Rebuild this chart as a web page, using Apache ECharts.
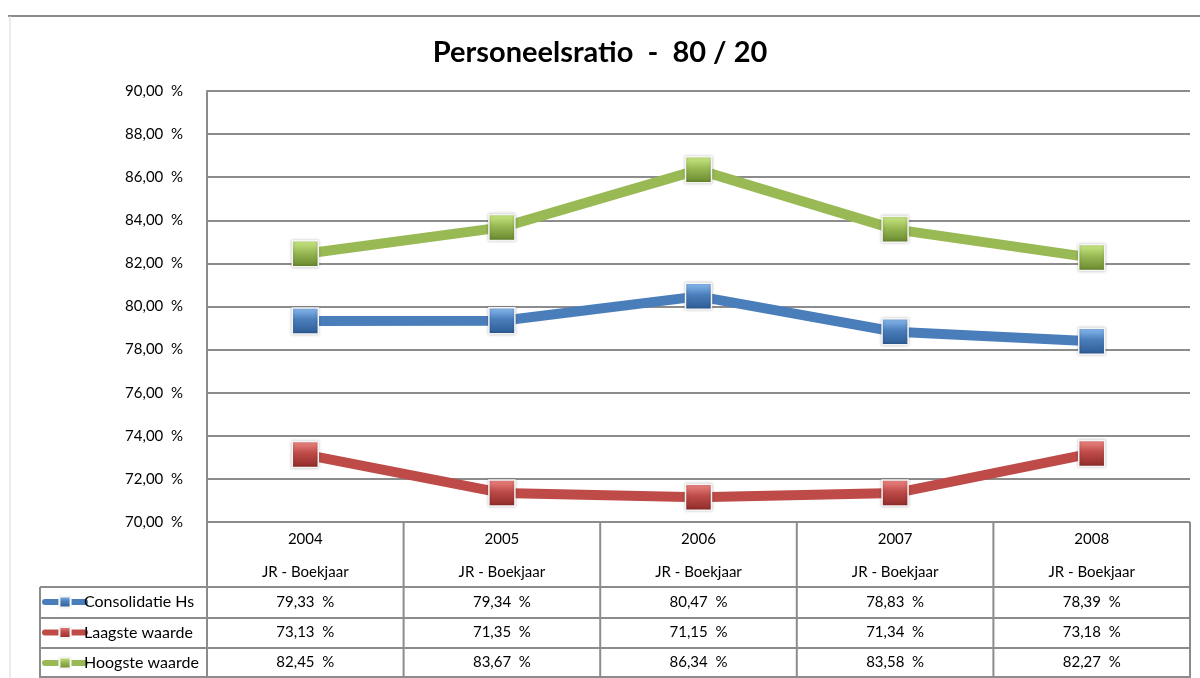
<!DOCTYPE html>
<html>
<head>
<meta charset="utf-8">
<script src="https://cdn.jsdelivr.net/npm/echarts@6/dist/echarts.min.js"></script>
<style>
  html, body { margin: 0; padding: 0; background: #fff; }
  #main { width: 1200px; height: 678px; }
</style>
</head>
<body>
<div id="main"></div>
<script>
// chart data
const years = ['2004', '2005', '2006', '2007', '2008'];
const subLabel = 'JR - Boekjaar';
const consolidatie = [79.33, 79.34, 80.47, 78.83, 78.39];
const laagste = [73.13, 71.35, 71.15, 71.34, 73.18];
const hoogste = [82.45, 83.67, 86.34, 83.58, 82.27];
const seriesNames = ['Consolidatie Hs', 'Laagste waarde', 'Hoogste waarde'];

const fmt = v => v.toFixed(2).replace('.', ',') + '  %';
const font = 'Lato, "Open Sans", sans-serif';

// layout
const W = 1200, H = 678;
const GL = 207, GR = 10, GT = 91, GB = 156;
const plotBottom = H - GB;
const plotRight = W - GR;
const colW = (plotRight - GL) / years.length;
const gridColor = '#8c8c8c';

function grad(light, mid, dark) {
    return new echarts.graphic.LinearGradient(0, 0, 0, 1, [
        { offset: 0, color: light },
        { offset: 0.45, color: mid },
        { offset: 1, color: dark }
    ]);
}

function makeSeries(name, data, color, light, dark) {
    return {
        name: name,
        type: 'line',
        data: data,
        symbol: 'rect',
        symbolSize: 26,
        lineStyle: { color: color, width: 10 },
        itemStyle: {
            color: grad(light, color, dark),
            borderColor: '#f4f4f4',
            borderWidth: 1.5,
            shadowColor: 'rgba(0,0,0,0.25)',
            shadowBlur: 3
        },
        emphasis: { disabled: true },
        z: 3
    };
}

// table lines
const lines = [];
function hline(x1, x2, y) {
    lines.push({ type: 'line', shape: { x1: x1, y1: y, x2: x2, y2: y },
        style: { stroke: gridColor, lineWidth: 2 }, silent: true });
}
function vline(x, y1, y2) {
    lines.push({ type: 'line', shape: { x1: x, y1: y1, x2: x, y2: y2 },
        style: { stroke: gridColor, lineWidth: 2 }, silent: true });
}
for (let i = 0; i <= years.length; i++) vline(GL + i * colW, plotBottom, H);
[587, 618, 648, 677].forEach(y => hline(40, plotRight, y));
vline(40, 587, H);
// chart frame
hline(8, W, 16);
lines.push({ type: 'line', shape: { x1: 10, y1: 16, x2: 10, y2: H },
    style: { stroke: '#d9d9d9', lineWidth: 1 }, silent: true });

function rowAxis(labels, margin) {
    return {
        type: 'category',
        data: labels,
        position: 'bottom',
        gridIndex: 0,
        axisLine: { show: false },
        axisTick: { show: false },
        splitLine: { show: false },
        axisLabel: { margin: margin, fontSize: 15, color: '#000', fontFamily: font, interval: 0 }
    };
}

const option = {
    backgroundColor: '#fff',
    animation: false,
    title: {
        text: 'Personeelsratio  -  80 / 20',
        left: 'center',
        top: 33,
        textStyle: { fontSize: 29, fontWeight: 'bold', color: '#000', fontFamily: font }
    },
    legend: {
        orient: 'vertical',
        left: 42,
        top: 594,
        bottom: 0,
        padding: 0,
        itemWidth: 40,
        itemHeight: 14,
        itemGap: 14.5,
        selectedMode: false,
        textStyle: { fontSize: 16, color: '#000', fontFamily: font, padding: [0, 0, 0, -6] },
        lineStyle: { width: 6, cap: 'round' },
        data: seriesNames
    },
    grid: { left: GL, right: GR, top: GT, bottom: GB },
    xAxis: [
        {
            type: 'category',
            data: years,
            boundaryGap: true,
            axisLine: { show: false },
            axisTick: { show: false },
            axisLabel: { margin: 10, fontSize: 15, color: '#000', fontFamily: font }
        },
        rowAxis(years.map(() => subLabel), 43),
        rowAxis(consolidatie.map(fmt), 73),
        rowAxis(laagste.map(fmt), 103),
        rowAxis(hoogste.map(fmt), 133)
    ],
    yAxis: {
        type: 'value',
        min: 70,
        max: 90,
        interval: 2,
        axisLine: { show: true, lineStyle: { color: gridColor, width: 2 } },
        axisTick: { show: false },
        splitLine: { lineStyle: { color: gridColor, width: 2 } },
        axisLabel: { formatter: fmt, margin: 24, fontSize: 15, color: '#000', fontFamily: font }
    },
    series: [
        makeSeries(seriesNames[0], consolidatie, '#4a7ebb', '#8fc0f5', '#2c5a94'),
        makeSeries(seriesNames[1], laagste, '#be4b48', '#f28c89', '#8e2a28'),
        makeSeries(seriesNames[2], hoogste, '#98b954', '#d0ee8a', '#66862c')
    ],
    graphic: lines
};

const chart = echarts.init(document.getElementById('main'));
chart.setOption(option);
</script>
</body>
</html>
